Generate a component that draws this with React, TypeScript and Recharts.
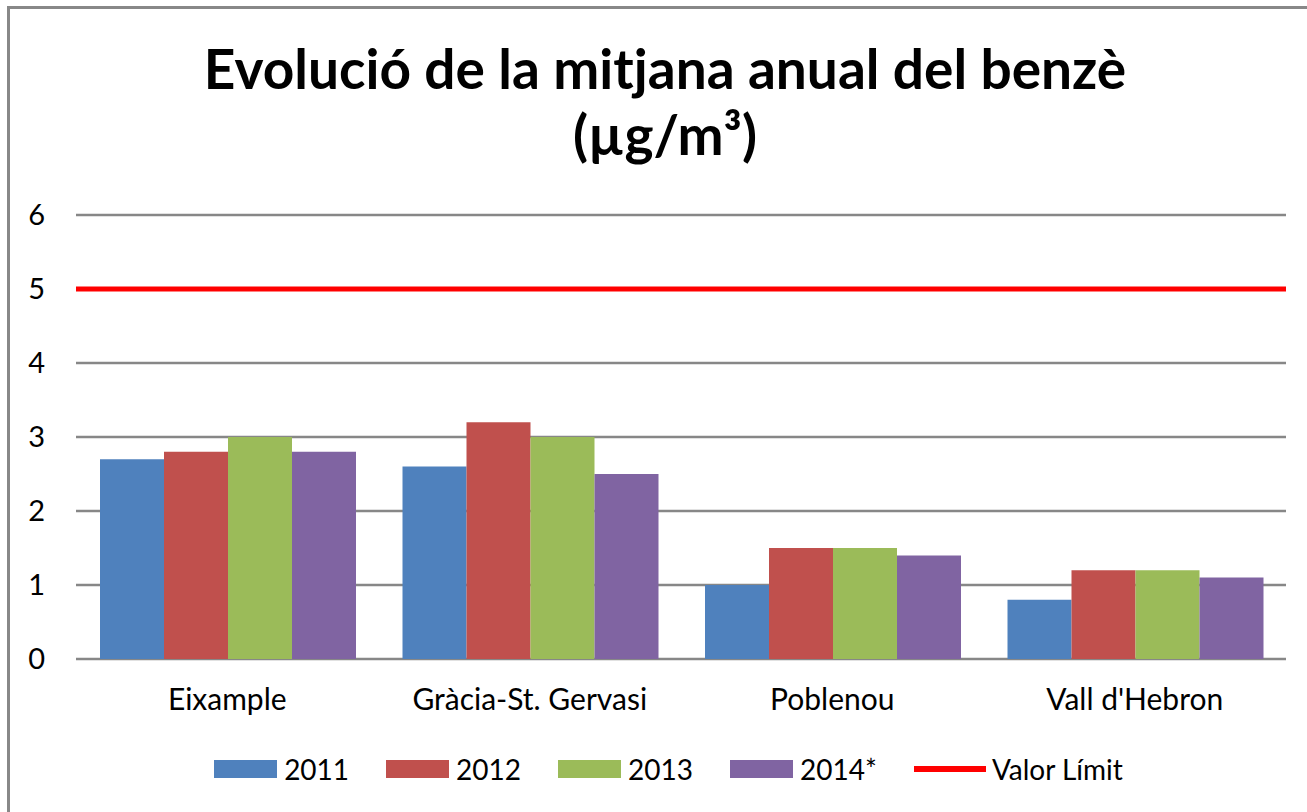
import React from 'react';
import { BarChart, Bar, XAxis, YAxis, CartesianGrid, ReferenceLine } from 'recharts';

const stations = ['Eixample', 'Gràcia-St. Gervasi', 'Poblenou', "Vall d'Hebron"];
const y2011 = [2.7, 2.6, 1.0, 0.8];
const y2012 = [2.8, 3.2, 1.5, 1.2];
const y2013 = [3.0, 3.0, 1.5, 1.2];
const y2014 = [2.8, 2.5, 1.4, 1.1];
const limitValue = 5;
const yTicks = [0, 1, 2, 3, 4, 5, 6];

const seriesKeys = ['2011', '2012', '2013', '2014*'];
const COLORS = ['#4F81BD', '#C0504D', '#9BBB59', '#8064A2'];

const data = stations.map((name, i) => ({
  name,
  '2011': y2011[i],
  '2012': y2012[i],
  '2013': y2013[i],
  '2014*': y2014[i],
}));

const FONT = 'Lato, "Open Sans", sans-serif';

const LegendBox = () => (
  <div
    style={{
      display: 'flex',
      justifyContent: 'center',
      alignItems: 'center',
      fontFamily: FONT,
      fontSize: 28,
      color: '#000',
    }}
  >
    {seriesKeys.map((k, i) => (
      <div key={k} style={{ display: 'flex', alignItems: 'center', marginRight: 37 }}>
        <span style={{ display: 'inline-block', width: 63, height: 18, background: COLORS[i], marginRight: 7 }} />
        <span>{k}</span>
      </div>
    ))}
    <div style={{ display: 'flex', alignItems: 'center' }}>
      <span style={{ display: 'inline-block', width: 72, height: 6, background: '#FF0000', marginRight: 6 }} />
      <span>Valor Límit</span>
    </div>
  </div>
);

export default function App() {
  return (
    <div style={{ position: 'absolute', left: 0, top: 0, width: 1307, height: 812, background: '#fff', overflow: 'hidden' }}>
      <div
        style={{
          position: 'absolute',
          left: 7,
          top: 6,
          width: 1400,
          height: 900,
          borderLeft: '3px solid #888',
          borderTop: '3px solid #888',
        }}
      />
      <BarChart
        width={1307}
        height={812}
        data={data}
        margin={{ top: 215, right: 21, bottom: 123, left: 0 }}
        barCategoryGap={24}
        barGap={0}
        style={{ position: 'absolute', left: 0, top: 0 }}
      >
        <CartesianGrid vertical={false} stroke="#878787" strokeWidth={2.5} />
        <XAxis
          dataKey="name"
          axisLine={false}
          tickLine={false}
          tickSize={0}
          tickMargin={30}
          interval={0}
          tick={{ fill: '#000', fontSize: 30, fontFamily: FONT }}
        />
        <YAxis
          domain={[0, 6]}
          ticks={yTicks}
          width={76}
          axisLine={false}
          tickLine={false}
          tickSize={0}
          tickMargin={31}
          tick={{ fill: '#000', fontSize: 29, fontFamily: FONT }}
        />
        {seriesKeys.map((k, i) => (
          <Bar key={k} dataKey={k} fill={COLORS[i]} isAnimationActive={false} />
        ))}
        <ReferenceLine y={limitValue} stroke="#FF0000" strokeWidth={5} />
      </BarChart>
      <div
        style={{
          position: 'absolute',
          left: 0,
          top: 35,
          width: 1330,
          textAlign: 'center',
          fontFamily: FONT,
          fontWeight: 700,
          fontSize: 55,
          lineHeight: '66px',
          color: '#000',
        }}
      >
        Evolució de la mitjana anual del benzè
        <br />
        (µg/m³)
      </div>
      <div style={{ position: 'absolute', left: 15, top: 752, width: 1307 }}>
        <LegendBox />
      </div>
    </div>
  );
}
